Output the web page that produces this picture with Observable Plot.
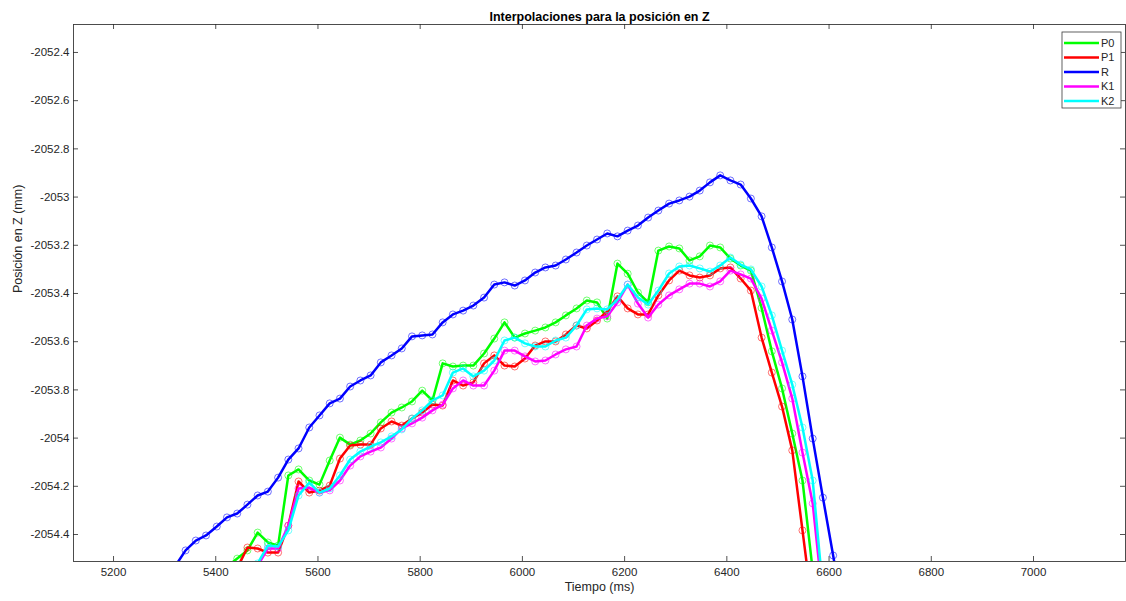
<!DOCTYPE html>
<html>
<head>
<meta charset="utf-8">
<script src="https://cdn.jsdelivr.net/npm/d3@7"></script>
<script src="https://cdn.jsdelivr.net/npm/@observablehq/plot@0.6"></script>
<style>
  body { margin: 0; background: #fff; }
  #chart { width: 1126px; height: 601px; }
</style>
</head>
<body>
<div id="chart"></div>
<script>
// ---- Data ----
const titulo = "Interpolaciones para la posición en Z";
const etiquetaX = "Tiempo (ms)";
const etiquetaY = "Posición en Z (mm)";

const ticksX = [5200, 5400, 5600, 5800, 6000, 6200, 6400, 6600, 6800, 7000];
const ticksY = [-2054.4, -2054.2, -2054, -2053.8, -2053.6, -2053.4, -2053.2, -2053, -2052.8, -2052.6, -2052.4];

const tiempo = [5321, 5341, 5361, 5381, 5402, 5422, 5442, 5462, 5482, 5502,
  5522, 5542, 5562, 5583, 5603, 5623, 5643, 5663, 5683, 5703,
  5723, 5744, 5764, 5784, 5804, 5824, 5844, 5864, 5884, 5904,
  5925, 5945, 5965, 5985, 6005, 6025, 6045, 6065, 6085, 6106,
  6126, 6146, 6166, 6186, 6206, 6226, 6246, 6266, 6287, 6307,
  6327, 6347, 6367, 6387, 6407, 6427, 6447, 6468, 6488, 6508,
  6528, 6548, 6568, 6588, 6608, 6628];

const P0 = [null, null, null, null, null, -2054.533, -2054.500, -2054.466, -2054.392, -2054.433,
  -2054.446, -2054.155, -2054.130, -2054.176, -2054.193, -2054.093, -2053.998, -2054.027, -2054.010, -2053.981,
  -2053.935, -2053.894, -2053.873, -2053.848, -2053.803, -2053.844, -2053.690, -2053.703, -2053.699, -2053.699,
  -2053.649, -2053.587, -2053.520, -2053.583, -2053.566, -2053.554, -2053.541, -2053.520, -2053.491, -2053.462,
  -2053.429, -2053.437, -2053.504, -2053.276, -2053.318, -2053.396, -2053.437, -2053.222, -2053.205, -2053.213,
  -2053.263, -2053.246, -2053.201, -2053.209, -2053.255, -2053.284, -2053.305, -2053.460, -2053.640, -2053.794,
  -2053.981, -2054.176, -2054.549, null, null, null];

const P1 = [null, null, null, null, null, null, -2054.540, -2054.454, -2054.458, -2054.475,
  -2054.475, -2054.363, -2054.180, -2054.226, -2054.218, -2054.197, -2054.085, -2054.031, -2054.027, -2054.027,
  -2053.960, -2053.931, -2053.948, -2053.919, -2053.894, -2053.861, -2053.865, -2053.761, -2053.782, -2053.769,
  -2053.690, -2053.657, -2053.699, -2053.703, -2053.670, -2053.616, -2053.599, -2053.599, -2053.570, -2053.533,
  -2053.545, -2053.512, -2053.475, -2053.412, -2053.462, -2053.487, -2053.487, -2053.408, -2053.346, -2053.305,
  -2053.325, -2053.334, -2053.325, -2053.296, -2053.292, -2053.338, -2053.388, -2053.583, -2053.728, -2053.869,
  -2054.051, -2054.383, -2054.715, null, null, null];

const R = [-2054.530, -2054.466, -2054.425, -2054.404, -2054.367, -2054.329, -2054.313, -2054.276, -2054.238, -2054.222,
  -2054.164, -2054.089, -2054.043, -2053.956, -2053.906, -2053.856, -2053.836, -2053.786, -2053.761, -2053.740,
  -2053.686, -2053.657, -2053.628, -2053.578, -2053.574, -2053.570, -2053.520, -2053.487, -2053.471, -2053.450,
  -2053.417, -2053.363, -2053.354, -2053.367, -2053.346, -2053.313, -2053.292, -2053.284, -2053.259, -2053.230,
  -2053.201, -2053.176, -2053.151, -2053.163, -2053.139, -2053.118, -2053.085, -2053.056, -2053.027, -2053.014,
  -2052.998, -2052.973, -2052.939, -2052.910, -2052.931, -2052.948, -2053.006, -2053.080, -2053.209, -2053.350,
  -2053.508, -2053.744, -2054.002, -2054.247, -2054.487, -2054.736];

const K1 = [null, null, null, null, null, null, null, null, -2054.530, -2054.458,
  -2054.458, -2054.363, -2054.209, -2054.205, -2054.226, -2054.217, -2054.176, -2054.114, -2054.076, -2054.056,
  -2054.039, -2054.002, -2053.960, -2053.939, -2053.915, -2053.885, -2053.861, -2053.794, -2053.761, -2053.782,
  -2053.782, -2053.720, -2053.637, -2053.637, -2053.661, -2053.682, -2053.678, -2053.653, -2053.632, -2053.620,
  -2053.533, -2053.504, -2053.495, -2053.437, -2053.363, -2053.442, -2053.500, -2053.446, -2053.408, -2053.383,
  -2053.359, -2053.359, -2053.371, -2053.350, -2053.305, -2053.321, -2053.338, -2053.421, -2053.554, -2053.686,
  -2053.836, -2054.060, -2054.271, -2054.674, null, null];

const K2 = [null, null, null, null, null, null, null, null, -2054.520, -2054.446,
  -2054.450, -2054.383, -2054.238, -2054.185, -2054.226, -2054.209, -2054.155, -2054.089, -2054.056, -2054.035,
  -2054.018, -2053.993, -2053.964, -2053.919, -2053.885, -2053.844, -2053.823, -2053.728, -2053.711, -2053.744,
  -2053.720, -2053.678, -2053.595, -2053.583, -2053.607, -2053.620, -2053.620, -2053.595, -2053.583, -2053.533,
  -2053.466, -2053.462, -2053.466, -2053.425, -2053.363, -2053.417, -2053.446, -2053.388, -2053.317, -2053.288,
  -2053.284, -2053.296, -2053.309, -2053.284, -2053.251, -2053.280, -2053.300, -2053.371, -2053.491, -2053.637,
  -2053.778, -2053.956, -2054.176, -2054.632, null, null];

const nombres = ["P0", "P1", "R", "K1", "K2"];
const colores = ["#00ff00", "#ff0000", "#0000ff", "#ff00ff", "#00ffff"];
const valores = [P0, P1, R, K1, K2];

// ---- Build table ----
const tablas = nombres.map((n, k) =>
  tiempo.map((t, i) => ({serie: n, t, z: valores[k][i]})).filter(d => d.z != null)
);

const W = 1126, H = 601;
const mL = 73, mR = 1, mT = 24, mB = 40;
const frameW = W - mL - mR, frameH = H - mT - mB;
const ink = "#262626";
const fmt = d => String(+(+d).toFixed(1));

const marks = [];
nombres.forEach((n, k) => {
  marks.push(Plot.line(tablas[k], {x: "t", y: "z", stroke: colores[k], strokeWidth: 2.5, clip: true}));
  marks.push(Plot.dot(tablas[k], {x: "t", y: "z", r: 3.5, stroke: colores[k], strokeWidth: 0.7, strokeOpacity: 0.8, fill: "none", clip: true}));
});

const plot = Plot.plot({
  width: W,
  height: H,
  marginLeft: mL, marginRight: mR, marginTop: mT, marginBottom: mB,
  style: {fontFamily: "'Liberation Sans', Arial, sans-serif", fontSize: "11.5px", color: ink, background: "#fff"},
  x: {domain: [5121.7, 7180]},
  y: {domain: [-2054.512, -2052.284]},
  marks: [
    ...marks,
    Plot.frame({stroke: "#3a3a3a", strokeWidth: 0.9}),
    Plot.tickX(ticksX, {x: d => d, insetTop: frameH - 5, stroke: ink, strokeWidth: 0.8}),
    Plot.tickX(ticksX, {x: d => d, insetBottom: frameH - 5, stroke: ink, strokeWidth: 0.8}),
    Plot.tickY(ticksY, {y: d => d, insetRight: frameW - 5, stroke: ink, strokeWidth: 0.8}),
    Plot.tickY(ticksY, {y: d => d, insetLeft: frameW - 5, stroke: ink, strokeWidth: 0.8}),
    Plot.axisX(ticksX, {tickSize: 0, tickPadding: 6, tickFormat: d => String(d), label: null, fill: ink}),
    Plot.axisY(ticksY, {tickSize: 0, tickPadding: 4, tickFormat: fmt, label: null, fill: ink}),
    Plot.text([etiquetaX], {frameAnchor: "bottom", dy: 29, text: d => d, fontSize: 12.5, fill: ink}),
    Plot.text([etiquetaY], {frameAnchor: "left", dx: -56, rotate: -90, text: d => d, fontSize: 12.5, fill: ink}),
    Plot.text([titulo], {frameAnchor: "top", dy: -12, text: d => d, fontSize: 12.5, fontWeight: "bold", fill: "#000"})
  ]
});

// ---- Legend (MATLAB style box, top right) ----
const svg = d3.select(plot);
const lg = svg.append("g").attr("transform", "translate(1062,32)").attr("text-anchor", "start");
lg.append("rect").attr("width", 59).attr("height", 76).attr("fill", "#fff").attr("stroke", "#3a3a3a").attr("stroke-width", 0.8);
nombres.forEach((n, k) => {
  const yy = 11 + k * 14.5;
  lg.append("line").attr("x1", 2).attr("x2", 37).attr("y1", yy).attr("y2", yy)
    .attr("stroke", colores[k]).attr("stroke-width", 2.5);
  lg.append("text").attr("x", 39).attr("y", yy).attr("dy", "0.35em")
    .attr("text-anchor", "start")
    .attr("font-size", 11).attr("fill", ink).text(n);
});

document.getElementById("chart").appendChild(plot);
</script>
</body>
</html>
